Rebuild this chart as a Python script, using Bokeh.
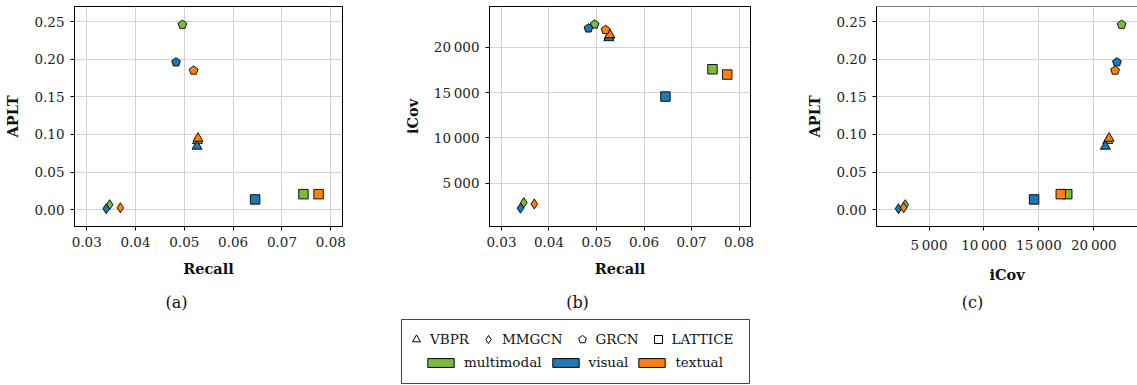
from bokeh.plotting import figure
from bokeh.layouts import row, column
from bokeh.models import (ColumnDataSource, FixedTicker, Range1d, Span, Label,
                          Legend, LegendItem, BoxAnnotation)
from bokeh.embed import file_html
from bokeh.resources import INLINE

NAN = float("nan")

# ---------------- data ----------------
models = ["VBPR"] * 3 + ["MMGCN"] * 3 + ["GRCN"] * 3 + ["LATTICE"] * 3
modalities = ["multimodal", "visual", "textual"] * 4
recall = [0.0527, 0.0526, 0.0528,
          0.0347, 0.0340, 0.0369,
          0.0496, 0.0483, 0.0519,
          0.0744, 0.0645, 0.0775]
icov = [21270, 21050, 21390,
        2835, 2220, 2690,
        22530, 22100, 21935,
        17580, 14560, 16990]
aplt = [0.0917, 0.0842, 0.0948,
        0.0066, 0.0013, 0.0026,
        0.246, 0.196, 0.185,
        0.0206, 0.0136, 0.0206]

model_names = ["VBPR", "MMGCN", "GRCN", "LATTICE"]
modality_names = ["multimodal", "visual", "textual"]

recall_ticks = [0.03, 0.04, 0.05, 0.06, 0.07, 0.08]
recall_tick_labels = ["0.03", "0.04", "0.05", "0.06", "0.07", "0.08"]
aplt_ticks = [0.0, 0.05, 0.10, 0.15, 0.20, 0.25]
aplt_tick_labels = ["0.00", "0.05", "0.10", "0.15", "0.20", "0.25"]
icov_ticks = [5000, 10000, 15000, 20000]
icov_tick_labels = ["5\u2009000", "10\u2009000", "15\u2009000", "20\u2009000"]

captions = ["(a)", "(b)", "(c)"]

# ---------------- styles ----------------
COLORS = {"multimodal": "#7cba3f", "visual": "#1f77b4", "textual": "#ff7f0e"}
MARKERS = {"VBPR": "triangle", "MMGCN": "diamond", "GRCN": "pentagon", "LATTICE": "square"}
SIZES = {"VBPR": 10, "MMGCN": 10, "LATTICE": 9.5}
FONT = "DejaVu Serif"
GRID = "#d3d3d3"

colors = [COLORS[m] for m in modalities]


def model_source(name):
    idx = [i for i, m in enumerate(models) if m == name]
    return ColumnDataSource(dict(
        recall=[recall[i] for i in idx],
        icov=[icov[i] for i in idx],
        aplt=[aplt[i] for i in idx],
        color=[colors[i] for i in idx],
    ))


def make_panel(xcol, ycol, xr, yr, xt, xtl, yt, ytl, xlabel, ylabel,
               width, bl, br, cut_right=False):
    p = figure(width=width, height=285, output_backend="svg", toolbar_location=None,
               x_range=Range1d(*xr), y_range=Range1d(*yr),
               min_border_left=bl, min_border_right=br,
               min_border_top=6, min_border_bottom=57)
    p.background_fill_color = "white"
    p.border_fill_color = "white"
    if cut_right:
        p.outline_line_color = None
        p.add_layout(Span(location=yr[1], dimension="width",
                          line_color="black", line_width=1))
    else:
        p.outline_line_color = "black"
        p.outline_line_width = 1
        p.outline_line_alpha = 1

    for ax, ticks, labels in ((p.xaxis[0], xt, xtl), (p.yaxis[0], yt, ytl)):
        ax.ticker = FixedTicker(ticks=ticks)
        ax.major_label_overrides = {t: l for t, l in zip(ticks, labels)}
        ax.minor_tick_line_color = None
        ax.major_tick_out = 4
        ax.major_tick_in = 0
        ax.major_tick_line_color = "black"
        ax.axis_line_color = "black"
        ax.major_label_text_font = FONT
        ax.major_label_text_font_size = "13.5px"
        ax.major_label_text_color = "#222222"
        ax.major_label_standoff = 6
        ax.axis_label_text_font = FONT
        ax.axis_label_text_font_style = "bold"
        ax.axis_label_text_font_size = "14.5px"
        ax.axis_label_text_color = "#111111"
        ax.axis_label_standoff = 10
    p.xaxis.axis_label = xlabel
    p.yaxis.axis_label = ylabel

    p.xgrid.ticker = FixedTicker(ticks=xt)
    p.ygrid.ticker = FixedTicker(ticks=yt)
    p.grid.grid_line_color = GRID
    p.grid.grid_line_width = 1

    for name in model_names:
        src = model_source(name)
        if name == "GRCN":
            p.ngon(x=xcol, y=ycol, radius=4.6, radius_units="screen", n=5,
                   source=src, fill_color="color", line_color="black",
                   line_width=0.9)
        else:
            p.scatter(x=xcol, y=ycol, source=src, marker=MARKERS[name],
                      size=SIZES[name], fill_color="color", line_color="black",
                      line_width=0.9)
    return p


pa = make_panel("recall", "aplt", (0.0275, 0.0824), (-0.0224, 0.2701),
                recall_ticks, recall_tick_labels, aplt_ticks, aplt_tick_labels,
                "Recall", "APLT", 400, 74, 58)
pb = make_panel("recall", "icov", (0.02748, 0.0824), (195, 24514),
                recall_ticks, recall_tick_labels, icov_ticks, icov_tick_labels,
                "Recall", "iCov", 400, 82, 50)
pc = make_panel("icov", "aplt", (218, 23973), (-0.0224, 0.2701),
                icov_ticks, icov_tick_labels, aplt_ticks, aplt_tick_labels,
                "iCov", "APLT", 337, 76, 0, cut_right=True)

# ---------------- bottom strip: captions + legend ----------------
pbot = figure(width=1137, height=100, output_backend="svg", toolbar_location=None,
              x_range=Range1d(0, 1137), y_range=Range1d(0, 100),
              x_axis_location=None, y_axis_location=None,
              min_border=0, min_border_left=0, min_border_right=0,
              min_border_top=0, min_border_bottom=0)
pbot.grid.visible = False
pbot.outline_line_color = None
pbot.background_fill_color = "white"
pbot.border_fill_color = "white"

for cx, txt in zip([176, 577, 972], captions):
    pbot.add_layout(Label(x=cx, y=83, text=txt, text_align="center",
                          text_baseline="middle", text_font=FONT,
                          text_font_size="16px", text_color="#111111"))

pbot.add_layout(BoxAnnotation(left=401, right=749, bottom=2, top=66,
                              fill_color=None, fill_alpha=0,
                              line_color="#444444", line_width=1, line_alpha=1))

# legend proxies (NaN positions -> never drawn in the plot area)
shape_items = []
for name in model_names:
    if name == "GRCN":
        r = pbot.ngon(x=[NAN], y=[NAN], radius=4.3, radius_units="screen", n=5,
                      fill_color="white", line_color="black", line_width=1)
    else:
        r = pbot.scatter(x=[NAN], y=[NAN], marker=MARKERS[name], size=8,
                         fill_color="white", line_color="black", line_width=1)
    shape_items.append(LegendItem(label=name, renderers=[r]))

color_items = []
for mod in modality_names:
    r = pbot.quad(left=[NAN], right=[NAN], top=[NAN], bottom=[NAN],
                  fill_color=COLORS[mod], line_color="black", line_width=1)
    color_items.append(LegendItem(label=mod, renderers=[r]))

leg1 = Legend(items=shape_items, orientation="horizontal", location=(406, 36),
              glyph_width=20, glyph_height=20, label_height=20, label_standoff=4,
              spacing=9, padding=0, margin=0,
              label_text_font=FONT, label_text_font_size="13.5px",
              label_text_color="#111111",
              background_fill_alpha=0, border_line_color=None)
leg2 = Legend(items=color_items, orientation="horizontal", location=(424, 15),
              glyph_width=33, glyph_height=11, label_height=16, label_standoff=7,
              spacing=7, padding=0, margin=0,
              label_text_font=FONT, label_text_font_size="13.5px",
              label_text_color="#111111",
              background_fill_alpha=0, border_line_color=None)
pbot.add_layout(leg1, "center")
pbot.add_layout(leg2, "center")

layout = column(row(pa, pb, pc), pbot)

open("out.html", "w").write(file_html(layout, INLINE))
